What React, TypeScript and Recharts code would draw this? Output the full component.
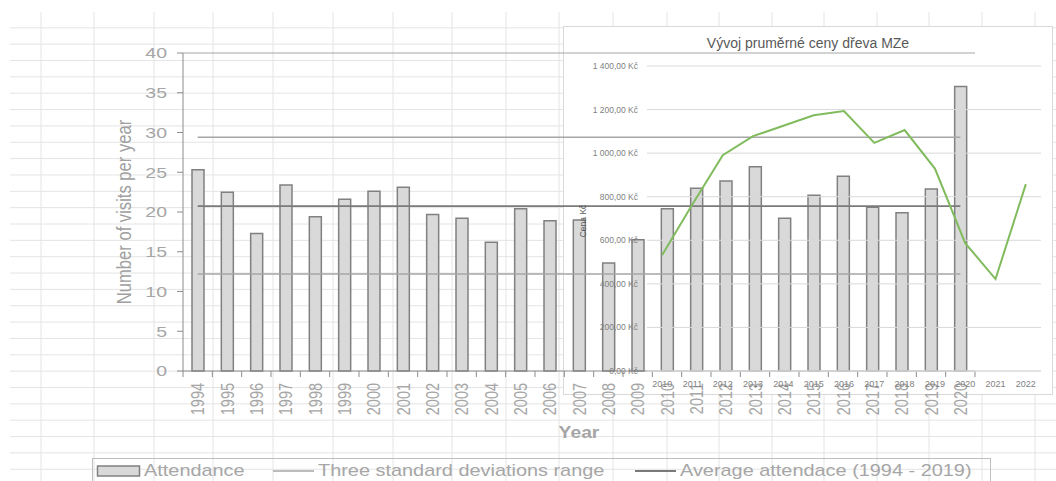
import React from "react";
import {
    ComposedChart,
    Bar,
    Line,
    XAxis,
    YAxis,
    CartesianGrid,
    ReferenceLine,
} from "recharts";

// ---- attendance chart data ----
const years = [
    "1994", "1995", "1996", "1997", "1998", "1999", "2000", "2001", "2002",
    "2003", "2004", "2005", "2006", "2007", "2008", "2009", "2010", "2011",
    "2012", "2013", "2014", "2015", "2016", "2017", "2018", "2019", "2020",
];
const attendance = [
    25.3, 22.5, 17.3, 23.4, 19.4, 21.6, 22.6, 23.1, 19.7,
    19.2, 16.2, 20.4, 18.9, 19.0, 13.6, 16.5, 20.4, 23.0,
    23.9, 25.7, 19.2, 22.1, 24.5, 20.6, 19.9, 22.9, 35.8,
];
const avgAttendance = 20.75; // average 1994 - 2019
const upperRange = 29.4;     // mean + 3 sd
const lowerRange = 12.2;     // mean - 3 sd
const countTicks = [0, 5, 10, 15, 20, 25, 30, 35, 40];

// ---- pasted wood price chart data ----
const priceYears = [
    "2010", "2011", "2012", "2013", "2014", "2015", "2016",
    "2017", "2018", "2019", "2020", "2021", "2022",
];
const woodPrice = [532, 765, 991, 1078, 1126, 1174, 1193, 1047, 1106, 929, 587, 422, 858];
const priceTicks = [0, 200, 400, 600, 800, 1000, 1200, 1400];

const legendItems = ["Attendance", "Three standard deviations range", "Average attendace (1994 - 2019)"];

const attendanceData = years.map((y, i) => ({ year: y, attendance: attendance[i] }));
const priceData = priceYears.map((y, i) => ({ year: y, price: woodPrice[i] }));

// layout
const W = 1056;
const H = 481;
const PLOT_L = 183;
const PLOT_R = 975;
const PLOT_T = 53;
const PLOT_B = 371;
const BAND = (PLOT_R - PLOT_L) / years.length;

const FONT = "'Liberation Sans', Arial, sans-serif";
const TEXT = "#a6a6a6";
const AXIS = "#8c8c8c";
const SHEET = "#e4e4e4";

const sheetCols = [41, 94, 154, 213, 273, 333, 393, 452, 506, 559, 613, 667, 719, 772, 824, 877, 929, 982, 1035];
const sheetRows = Array.from({ length: 28 }, (_, k) => 27.8 + k * 16.35);

function formatKc(v: number) {
    const whole = String(Math.round(v)).replace(/\B(?=(\d{3})+(?!\d))/g, " ");
    return `${whole},00 Kč`;
}

function CountTick({ x, y, payload }: any) {
    return (
        <text
            transform={`translate(${x},${y}) scale(1.3,1)`}
            textAnchor="end"
            dy="0.36em"
            fontSize={15}
            fontFamily={FONT}
            fill={TEXT}
        >
            {payload.value}
        </text>
    );
}

function YearTick({ x, y, payload, index }: any) {
    const last = index === years.length - 1;
    return (
        <g>
            <line x1={x - BAND / 2} x2={x - BAND / 2} y1={y} y2={y + 6} stroke={AXIS} />
            {last && <line x1={x + BAND / 2} x2={x + BAND / 2} y1={y} y2={y + 6} stroke={AXIS} />}
            <text
                transform={`translate(${x},${y + 12}) scale(1.25,1) rotate(-90)`}
                textAnchor="end"
                dy="0.36em"
                fontSize={14.5}
                fontFamily={FONT}
                fill={TEXT}
            >
                {payload.value}
            </text>
        </g>
    );
}

function PriceTick({ x, y, payload }: any) {
    return (
        <text x={x} y={y} textAnchor="end" dy="0.36em" fontSize={8.5} fontFamily={FONT} fill="#7f7f7f">
            {formatKc(payload.value)}
        </text>
    );
}

function PriceYearTick({ x, y, payload }: any) {
    return (
        <text x={x} y={y + 13} textAnchor="middle" dy="0.36em" fontSize={9} fontFamily={FONT} fill="#7f7f7f">
            {payload.value}
        </text>
    );
}

export default function App() {
    return (
        <div
            style={{
                position: "absolute",
                left: 0,
                top: 0,
                width: W,
                height: H,
                overflow: "hidden",
                background: "#fff",
                fontFamily: FONT,
            }}
        >
            {/* spreadsheet cells behind the charts */}
            <svg width={W} height={H} style={{ position: "absolute", left: 0, top: 0 }}>
                {sheetRows.map((y) => (
                    <line key={"r" + y} x1={10} x2={W} y1={y} y2={y} stroke={SHEET} />
                ))}
                {sheetCols.map((x) => (
                    <line key={"c" + x} x1={x} x2={x} y1={12} y2={H} stroke={SHEET} />
                ))}
            </svg>

            {/* pasted chart box */}
            <div
                style={{
                    position: "absolute",
                    left: 563,
                    top: 26,
                    width: 490,
                    height: 369,
                    background: "#fff",
                    border: "1px solid #d9d9d9",
                    boxSizing: "border-box",
                }}
            />

            {/* attendance chart */}
            <div style={{ position: "absolute", left: 0, top: 0 }}>
                <ComposedChart
                    width={W}
                    height={H}
                    data={attendanceData}
                    margin={{ top: PLOT_T, right: W - PLOT_R, bottom: 0, left: 0 }}
                    barCategoryGap={0}
                >
                    <XAxis
                        dataKey="year"
                        interval={0}
                        height={H - PLOT_B}
                        axisLine={{ stroke: AXIS }}
                        tickLine={false}
                        tickSize={0}
                        tickMargin={0}
                        tick={<YearTick />}
                        label={{
                            content: ({ viewBox }: any) => (
                                <text
                                    transform={`translate(${viewBox.x + viewBox.width / 2},${viewBox.y + 61}) scale(1.17,1)`}
                                    textAnchor="middle"
                                    dy="0.36em"
                                    fontSize={16.5}
                                    fontWeight="bold"
                                    fontFamily={FONT}
                                    fill={TEXT}
                                >
                                    Year
                                </text>
                            ),
                        }}
                    />
                    <YAxis
                        width={PLOT_L}
                        domain={[0, 40]}
                        ticks={countTicks}
                        interval={0}
                        axisLine={{ stroke: AXIS }}
                        tickLine={{ stroke: AXIS }}
                        tickSize={6}
                        tickMargin={10}
                        tick={<CountTick />}
                        label={{
                            content: ({ viewBox }: any) => (
                                <text
                                    transform={`translate(${viewBox.x + 124},${viewBox.y + viewBox.height / 2}) scale(1.2,1) rotate(-90)`}
                                    textAnchor="middle"
                                    dy="0.36em"
                                    fontSize={16.6}
                                    fontFamily={FONT}
                                    fill="#a0a0a0"
                                >
                                    Number of visits per year
                                </text>
                            ),
                        }}
                    />
                    <YAxis
                        yAxisId="right"
                        orientation="right"
                        width={0}
                        domain={[0, 40]}
                        tick={false}
                        tickLine={false}
                        axisLine={{ stroke: "#a6a6a6" }}
                    />
                    <ReferenceLine y={40} stroke="#a6a6a6" />
                    <Bar
                        dataKey="attendance"
                        barSize={12}
                        fill="#d9d9d9"
                        stroke="#808080"
                        strokeWidth={1.5}
                        isAnimationActive={false}
                    />
                    <ReferenceLine
                        segment={[{ x: years[0], y: upperRange }, { x: years[years.length - 1], y: upperRange }]}
                        stroke="#a6a6a6"
                        strokeWidth={1.3}
                    />
                    <ReferenceLine
                        segment={[{ x: years[0], y: lowerRange }, { x: years[years.length - 1], y: lowerRange }]}
                        stroke="#a6a6a6"
                        strokeWidth={1.3}
                    />
                    <ReferenceLine
                        segment={[{ x: years[0], y: avgAttendance }, { x: years[years.length - 1], y: avgAttendance }]}
                        stroke="#7a7a7a"
                        strokeWidth={1.8}
                    />
                </ComposedChart>
            </div>

            {/* pasted wood price chart */}
            <div style={{ position: "absolute", left: 563, top: 26 }}>
                <ComposedChart
                    width={490}
                    height={369}
                    data={priceData}
                    margin={{ top: 40, right: 12, bottom: 0, left: 0 }}
                >
                    <CartesianGrid vertical={false} stroke="#d9d9d9" />
                    <XAxis
                        dataKey="year"
                        scale="band"
                        interval={0}
                        height={24}
                        axisLine={{ stroke: "#d9d9d9" }}
                        tickLine={false}
                        tickSize={0}
                        tickMargin={0}
                        tick={<PriceYearTick />}
                    />
                    <YAxis
                        width={84}
                        domain={[0, 1400]}
                        ticks={priceTicks}
                        interval={0}
                        axisLine={false}
                        tickLine={false}
                        tickSize={0}
                        tickMargin={9}
                        tick={<PriceTick />}
                        label={{
                            content: ({ viewBox }: any) => (
                                <text
                                    transform={`translate(${viewBox.x + 20},${viewBox.y + 155}) rotate(-90)`}
                                    textAnchor="middle"
                                    dy="0.36em"
                                    fontSize={8.5}
                                    fontFamily={FONT}
                                    fill="#595959"
                                >
                                    Cena Kč
                                </text>
                            ),
                        }}
                    />
                    <Line
                        dataKey="price"
                        stroke="#80bb5d"
                        strokeWidth={2}
                        dot={false}
                        isAnimationActive={false}
                    />
                </ComposedChart>
            </div>

            <div
                style={{
                    position: "absolute",
                    left: 563,
                    top: 34,
                    width: 490,
                    textAlign: "center",
                    fontSize: 14,
                    lineHeight: "18px",
                    color: "#595959",
                }}
            >
                Vývoj pruměrné ceny dřeva MZe
            </div>

            {/* legend */}
            <svg width={W} height={H} style={{ position: "absolute", left: 0, top: 0, pointerEvents: "none" }}>
                <rect x={92.5} y={458.5} width={898} height={40} fill="none" stroke="#bfbfbf" />
                <rect x={97.5} y={466} width={42} height={10} fill="#d9d9d9" stroke="#808080" strokeWidth={1.5} />
                <text transform="translate(144,476) scale(1.17,1)" fontSize={17} fontFamily={FONT} fill={TEXT}>
                    {legendItems[0]}
                </text>
                <line x1={273} x2={314} y1={471} y2={471} stroke="#a6a6a6" strokeWidth={1.3} />
                <text transform="translate(318,476) scale(1.17,1)" fontSize={17} fontFamily={FONT} fill={TEXT}>
                    {legendItems[1]}
                </text>
                <line x1={635} x2={676} y1={471} y2={471} stroke="#7a7a7a" strokeWidth={1.8} />
                <text transform="translate(680,476) scale(1.17,1)" fontSize={17} fontFamily={FONT} fill={TEXT}>
                    {legendItems[2]}
                </text>
            </svg>
        </div>
    );
}
